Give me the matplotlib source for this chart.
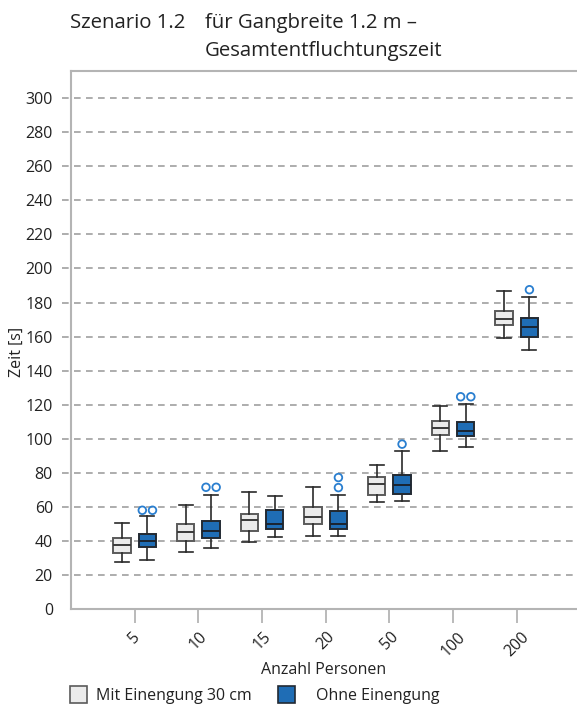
import matplotlib.pyplot as plt
import matplotlib.transforms as mtransforms
from matplotlib.patches import Rectangle

plt.rcParams['font.family'] = ['Open Sans', 'DejaVu Sans']

# Anzahl Personen (Kategorien)
personen = ["5", "10", "15", "20", "50", "100", "200"]

# Mit Einengung 30 cm: unteres Whisker-Ende, Q1, Median, Q3, oberes Whisker-Ende
mit_wlo = [28.0, 33.6, 39.5, 42.9, 63.0, 92.8, 159.1]
mit_q1 = [33.1, 40.1, 45.8, 50.3, 66.9, 102.2, 166.9]
mit_med = [37.6, 45.4, 52.3, 54.0, 73.6, 106.6, 170.3]
mit_q3 = [42.0, 50.3, 55.8, 60.3, 77.9, 110.4, 175.2]
mit_whi = [50.9, 61.4, 69.1, 71.8, 84.7, 119.0, 186.5]

# Ohne Einengung
ohne_wlo = [29.1, 35.8, 42.6, 42.9, 63.4, 95.3, 152.1]
ohne_q1 = [36.6, 42.0, 47.0, 47.2, 67.5, 101.6, 159.9]
ohne_med = [40.3, 46.2, 49.9, 50.3, 72.8, 104.9, 165.4]
ohne_q3 = [44.0, 52.0, 58.1, 57.9, 78.7, 110.0, 171.2]
ohne_whi = [55.0, 67.3, 66.5, 67.3, 92.8, 120.7, 183.4]
# Ausreisser; bei gleichen Werten nebeneinander gezeichnet
ohne_fliers = [[58.1, 58.1], [71.6, 71.6], [], [71.4, 77.3], [96.9], [124.7, 124.7], [187.5]]

yticks = list(range(0, 301, 20))

grau = "#ebebeb"
blau = "#1f6db5"
kreis = "#2a7fd0"


def stats(wlo, q1, med, q3, whi):
    return [dict(whislo=a, q1=b, med=c, q3=d, whishi=e, fliers=[])
            for a, b, c, d, e in zip(wlo, q1, med, q3, whi)]


fig = plt.figure(figsize=(5.77, 7.07), dpi=100)
ax = fig.add_axes([71 / 577, 97.7 / 707, 506 / 577, 538.6 / 707])

pos = list(range(1, len(personen) + 1))
off = 0.2
breite = 0.27

ax.bxp(stats(mit_wlo, mit_q1, mit_med, mit_q3, mit_whi),
       positions=[p - off for p in pos], widths=breite, patch_artist=True,
       showfliers=False,
       boxprops=dict(facecolor=grau, edgecolor="#5a5a5a", linewidth=1.4),
       medianprops=dict(color="#3a3a3a", linewidth=1.4),
       whiskerprops=dict(color="#2a2a2a", linewidth=1.2),
       capprops=dict(color="#2a2a2a", linewidth=1.2),
       capwidths=0.22, zorder=3)
ax.bxp(stats(ohne_wlo, ohne_q1, ohne_med, ohne_q3, ohne_whi),
       positions=[p + off for p in pos], widths=breite, patch_artist=True,
       showfliers=False,
       boxprops=dict(facecolor=blau, edgecolor="#222a33", linewidth=1.4),
       medianprops=dict(color="#1a2330", linewidth=1.4),
       whiskerprops=dict(color="#2a2a2a", linewidth=1.2),
       capprops=dict(color="#2a2a2a", linewidth=1.2),
       capwidths=0.22, zorder=3)

for p, fl in zip(pos, ohne_fliers):
    xs = []
    for i, v in enumerate(fl):
        dup = fl.count(v)
        if dup > 1:
            idx = [j for j, w in enumerate(fl) if w == v].index(i)
            xs.append(p + off + (idx - (dup - 1) / 2) * 0.16)
        else:
            xs.append(p + off)
    ax.scatter(xs, fl, s=30, facecolors="none", edgecolors=kreis,
               linewidths=1.3, zorder=4)

ax.set_xlim(0, 506 / 63.67)
ax.set_ylim(0, 316)

# gestrichelte Hilfslinien, links etwas über die Achse hinaus
trans = mtransforms.blended_transform_factory(ax.transAxes, ax.transData)
for y in yticks[1:]:
    ax.plot([-0.018, 1.0], [y, y], transform=trans, color="#a0a0a0",
            linestyle=(0, (4, 3.2)), linewidth=1.2, clip_on=False, zorder=1)

ax.set_yticks(yticks)
ax.set_yticklabels([str(y) for y in yticks], fontsize=11.5, color="#222222")
ax.tick_params(axis="y", length=0, pad=13)
ax.set_xticks(pos)
ax.set_xticklabels(personen, rotation=45, fontsize=11.5, color="#222222",
                   ha="center", va="top")
ax.tick_params(axis="x", length=10, width=1.3, color="#b4b4b4", pad=4)

for side in ["left", "top", "bottom"]:
    ax.spines[side].set_color("#b4b4b4")
    ax.spines[side].set_linewidth(1.5)
ax.spines["right"].set_visible(False)

ax.set_ylabel("Zeit [s]", fontsize=11.5, color="#222222")
ax.yaxis.set_label_coords(-0.092, 0.478)
ax.set_xlabel("Anzahl Personen", fontsize=11.5, color="#222222", labelpad=2)

fig.text(70 / 577, 1 - 28 / 707, "Szenario 1.2", fontsize=14.7, color="#222222")
fig.text(205 / 577, 1 - 28 / 707, "für Gangbreite 1.2 m –", fontsize=14.7,
         color="#222222")
fig.text(205 / 577, 1 - 56 / 707, "Gesamtentfluchtungszeit", fontsize=14.7,
         color="#222222")

# Legende
fig.patches.append(Rectangle((70 / 577, 1 - 703 / 707), 17 / 577, 17 / 707,
                             transform=fig.transFigure, facecolor=grau,
                             edgecolor="#5a5a5a", linewidth=1.2))
fig.text(96 / 577, 1 - 700 / 707, "Mit Einengung 30 cm", fontsize=11.5,
         color="#222222")
fig.patches.append(Rectangle((278 / 577, 1 - 703 / 707), 17 / 577, 17 / 707,
                             transform=fig.transFigure, facecolor=blau,
                             edgecolor="#222a33", linewidth=1.2))
fig.text(316 / 577, 1 - 700 / 707, "Ohne Einengung", fontsize=11.5,
         color="#222222")

fig.savefig("out.png", dpi=100)
